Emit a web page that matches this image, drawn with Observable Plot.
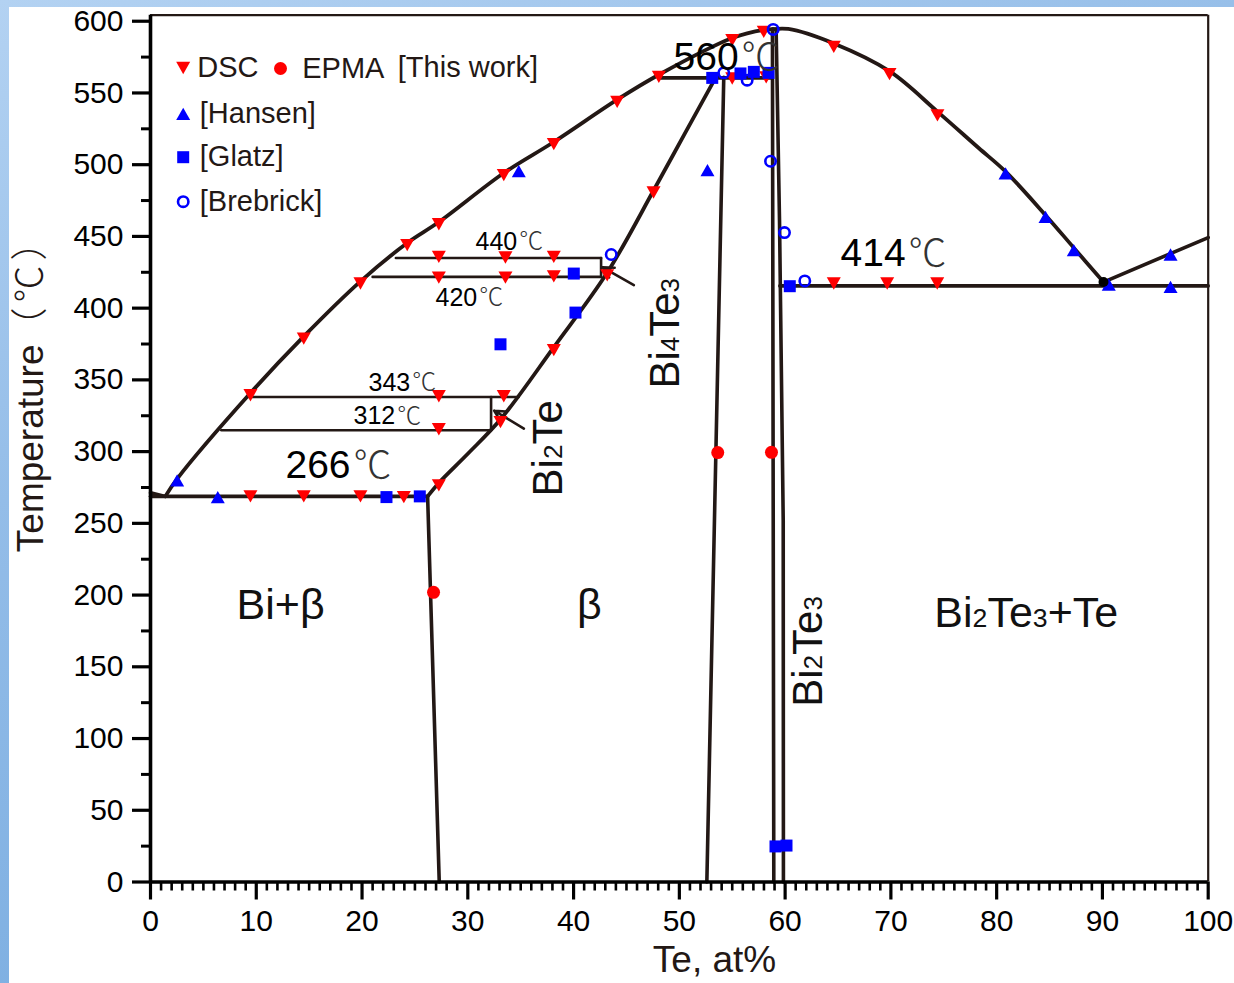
<!DOCTYPE html>
<html><head><meta charset="utf-8">
<script src="https://cdn.jsdelivr.net/npm/d3@7"></script>
<script src="https://cdn.jsdelivr.net/npm/@observablehq/plot@0.6"></script>
<style>
html,body{margin:0;padding:0;}
body{width:1234px;height:983px;overflow:hidden;position:relative;
background:linear-gradient(160deg,#b3d2f2 0%,#94bde8 35%,#7fb0e2 70%,#8ab7e6 100%);}
#chart{position:absolute;left:9px;top:7px;}
</style></head><body><div id="chart"></div>
<script>
// ---------- phase boundaries [Te at%, T °C] ----------
const liquidusBi    = [[0,271.4],[1.4,268.8]];
const liquidusLeft  = [[1.4,268.8],[2.52,281],[9.45,340.8],[14.49,380.3],[19.85,418.7],[24.27,445.4],[27.26,460],[33.4,494.2],[38.13,515.8],[44.12,545.3],[48.06,562.7],[55.0,588.3],[57.98,594],[58.9,594.5]];
const solidusBeta   = [[26.2,268.8],[27.3,278.5],[30,298.5],[33.1,322.5],[38.1,372.5],[43.2,425],[47.6,482.5],[50.5,521.5],[53.6,563]];
const liquidusRight = [[58.9,594.5],[60.3,594.6],[64.6,584.5],[69.9,565],[74.4,537],[78.3,511.6],[80.8,495.5],[84.6,465],[87.3,442],[90.1,418.2]];
const liquidusTe    = [[90.1,418.2],[100,449.2]];
const betaLeft      = [[26.2,268.8],[27.3,0]];
const bi4te3Line    = [[54.2,561],[52.6,0]];
const bi2te3Left    = [[58.8,594.5],[58.93,0]];
const bi2te3Right   = [[59.15,594],[59.47,461],[59.82,252],[59.84,0]];
const iso266        = [[0,268.8],[26.2,268.8]];
const iso414        = [[59.5,415.5],[100,415.5]];
const iso560        = [[48.2,560.5],[58.8,560.5]];
const iso312        = [[6.7,314.9],[32.2,314.9]];
const iso343        = [[9.3,338.1],[34.8,338.1]];
const bi2teBar      = [[32.2,314.9],[32.2,338.1]];
const iso420        = [[21.0,421.8],[42.6,421.8]];
const iso440        = [[23.2,435.0],[42.6,435.0]];
const bi4te3Bar     = [[42.6,421.8],[42.6,435.0]];

// ---------- experimental points [Te at%, T °C] ----------
const dsc = [[9.45,339.3],[14.49,378.8],[19.85,417.2],[24.27,443.9],[27.26,458.5],[33.40,492.7],[38.13,514.3],[44.12,543.8],[48.06,561.2],[55.0,586.8],[57.98,592.6],[64.6,582.1],[69.87,563.1],[74.4,534.4],
  [27.26,435.7],[33.56,435.3],[38.13,435.7],
  [27.26,421.3],[33.56,421.3],[38.13,422.2],[43.18,422.9],
  [38.13,370.7],[47.56,480.6],
  [27.26,338.6],[33.40,338.6],[33.09,320.6],[27.26,315.6],[27.26,276.5],
  [9.45,268.8],[14.49,268.8],[19.85,268.8],[23.95,268.3],
  [55.0,560.1],[58.21,560.8],
  [64.6,417.2],[69.65,417.2],[74.38,417.2]];
const epma = [[26.76,201.9],[53.63,299.3],[58.71,299.5]];
const hansen = [[2.52,280.0],[6.36,268.3],[34.82,495.5],[52.66,496.2],[80.84,493.9],[84.62,463.6],[87.29,440.4],[90.6,416.5],[96.44,437.4],[96.44,414.8]];
const glatz = [[22.31,268.3],[25.46,268.8],[40.02,424.1],[40.18,396.9],[33.09,374.8],[53.11,560.5],[55.78,563.6],[57.04,564.7],[58.43,564.0],[60.44,415.3],[59.09,24.8],[60.13,25.4]];
const brebrick = [[43.56,437.4],[58.87,594.3],[54.2,564.0],[56.41,558.9],[58.62,502.4],[59.94,452.7],[61.86,419.0]];
const eutecticDot = [[90.1,418.2]];

// ---------- labels ----------
const bigTemps   = [{num:"560",x:49.45,T:574.6},{num:"266",x:12.76,T:290.4},{num:"414",x:65.24,T:437.9}];
const smallTemps = [{num:"440",x:30.73,T:446.3},{num:"420",x:26.95,T:407.3},{num:"343",x:20.61,T:348.0},{num:"312",x:19.19,T:324.6}];
const phaseLabels = [{text:"Bi+β",x:12.3,T:192.8},{text:"β",x:41.5,T:192.8},{text:"Bi₂Te₃+Te",x:82.8,T:187.2}];
const compoundLabels = [{text:"Bi₄Te₃",x:48.69,T:382.5},{text:"Bi₂Te",x:37.6,T:302.3},{text:"Bi₂Te₃",x:62.2,T:160.7}];
const arrows = [{x1:45.7,T1:416,x2:42.75,T2:428.5},{x1:35.3,T1:316,x2:32.5,T2:328.5}];
const xTicks = d3.range(0,101,10);
const yTicks = d3.range(0,601,50);
const xLabel = "Te, at%";
const yLabelMain = "Temperature";
const yLabelUnit = "（℃）";
const legendRows = [
  {label:"DSC", sym:"dsc"},{label:"EPMA", sym:"epma"},{label:"[This work]", sym:null},
  {label:"[Hansen]", sym:"hansen"},{label:"[Glatz]", sym:"glatz"},{label:"[Brebrick]", sym:"brebrick"}
];

// ---------- helpers ----------
const toRows = (obj) => Object.entries(obj).flatMap(([id, pts]) => pts.map(([x,T]) => ({id, x, T})));
const pts = (a) => a.map(([x,T]) => ({x, T}));
const triDown = {draw(c, s){const r=Math.sqrt(s/Math.PI), h=r*0.88; c.moveTo(-r,-h); c.lineTo(r,-h); c.lineTo(0,h); c.closePath();}};
const triUp   = {draw(c, s){const r=Math.sqrt(s/Math.PI), h=r*0.88; c.moveTo(-r,h); c.lineTo(r,h); c.lineTo(0,-h); c.closePath();}};
const sq      = {draw(c, s){const r=Math.sqrt(s/Math.PI); c.rect(-r,-r,2*r,2*r);}};
const INK = "#231815", RED = "#ff0000", BLUE = "#0000ff";
const styles = {
  dsc:      {symbol: triDown, r: 7, fill: RED},
  epma:     {symbol: "circle", r: 6.5, fill: RED},
  hansen:   {symbol: triUp, r: 7, fill: BLUE},
  glatz:    {symbol: sq, r: 6, fill: BLUE},
  brebrick: {symbol: "circle", r: 5.2, fill: "none", stroke: BLUE, strokeWidth: 2.6}
};

const smooth = toRows({liquidusLeft, solidusBeta, liquidusRight});
const straight = toRows({liquidusBi, liquidusTe, betaLeft, bi4te3Line, bi2te3Left, bi2te3Right, iso266, iso414, iso560});
const thin = toRows({iso312, iso343, bi2teBar, iso420, iso440, bi4te3Bar});

const F = "'Liberation Sans', Arial, sans-serif";
const CJK = "'Noto Sans CJK SC', 'Liberation Sans', sans-serif";

// legend layout (pixel offsets from frame top-left)
const legendPos = {
  "DSC":[32.7,52.8,46.7], "EPMA":[130,53.3,151.7], "[This work]":[null,52.8,247.3],
  "[Hansen]":[32.7,98.6,49.3], "[Glatz]":[32.7,142,49.3], "[Brebrick]":[32.7,186.5,49.3]
};
const legendMarks = legendRows.flatMap(d => {
  const [sx, sy, tx] = legendPos[d.label];
  const m = [Plot.text([d.label], {frameAnchor:"top-left", dx: tx, dy: sy, textAnchor:"start", lineAnchor:"middle", fontSize:29, fill:INK, fontFamily:F})];
  if (d.sym) m.push(Plot.dot([0], {frameAnchor:"top-left", dx: sx, dy: sy, ...styles[d.sym]}));
  return m;
});

const chart = Plot.plot({
  width: 1225, height: 976,
  marginLeft: 141, marginRight: 26.3, marginTop: 7.7, marginBottom: 101.5,
  x: {domain: [0, 100]},
  y: {domain: [0, 604.2]},
  style: {fontFamily: F, fontSize: "30px", background: "#fff", color: "#000", overflow: "visible"},
  marks: [
    Plot.line(smooth, {x:"x", y:"T", z:"id", curve:"catmull-rom", stroke:INK, strokeWidth:3.8}),
    Plot.line(straight, {x:"x", y:"T", z:"id", stroke:INK, strokeWidth:3.6}),
    Plot.line(thin, {x:"x", y:"T", z:"id", stroke:INK, strokeWidth:2.6}),
    Plot.arrow(arrows, {x1:"x1", y1:"T1", x2:"x2", y2:"T2", stroke:INK, strokeWidth:2.6, headLength:14, headAngle:55}),
    // frame
    Plot.ruleX([100], {stroke:INK, strokeWidth:2.2}),
    Plot.ruleY([604.2], {stroke:INK, strokeWidth:2.2}),
    Plot.ruleX([0], {stroke:"#000", strokeWidth:3.6}),
    Plot.ruleY([0], {stroke:"#000", strokeWidth:3.6}),
    // axes
    Plot.axisY({ticks: yTicks, tickSize:18, tickPadding:9, fontSize:30, strokeWidth:3.2, color:"#000", label:null}),
    Plot.axisY({ticks: d3.range(25,601,50), tickSize:9, tickFormat:()=>"", strokeWidth:3, color:"#000", label:null}),
    Plot.axisX({ticks: xTicks, tickSize:18, tickPadding:10, fontSize:30, strokeWidth:3.2, color:"#000", label:null}),
    Plot.axisX({ticks: d3.range(0,101,1).filter(d => d % 10), tickSize:9, tickFormat:()=>"", strokeWidth:2.6, color:"#000", label:null}),
    // points
    Plot.dot(pts(dsc), {x:"x", y:"T", ...styles.dsc}),
    Plot.dot(pts(epma), {x:"x", y:"T", ...styles.epma}),
    Plot.dot(pts(hansen), {x:"x", y:"T", ...styles.hansen}),
    Plot.dot(pts(glatz), {x:"x", y:"T", ...styles.glatz}),
    Plot.dot(pts(brebrick), {x:"x", y:"T", ...styles.brebrick}),
    Plot.dot(pts(eutecticDot), {x:"x", y:"T", r:5, fill:"#000"}),
    // temperature annotations
    Plot.text(bigTemps, {x:"x", y:"T", text:"num", textAnchor:"start", fontSize:39, fill:"#000"}),
    Plot.text(bigTemps, {x:"x", y:"T", text:()=>"℃", textAnchor:"start", dx: 3*0.556*39 + 3, fontSize:38, fontFamily:CJK, fontWeight:300, fill:"#333"}),
    Plot.text(smallTemps, {x:"x", y:"T", text:"num", textAnchor:"start", fontSize:25, fill:"#000"}),
    Plot.text(smallTemps, {x:"x", y:"T", text:()=>"℃", textAnchor:"start", dx: 3*0.556*25 + 2, fontSize:24, fontFamily:CJK, fontWeight:300, fill:"#333"}),
    // phase labels
    Plot.text(phaseLabels, {x:"x", y:"T", text:"text", fontSize:43, fill:"#111"}),
    Plot.text(compoundLabels, {x:"x", y:"T", text:"text", rotate:-90, fontSize:42, fill:"#111"}),
    // axis titles
    Plot.text([xLabel], {x:()=>53.33, y:()=>0, dy:78.5, fontSize:37, fill:INK}),
    Plot.text([yLabelMain + yLabelUnit], {x:()=>0, y:()=>346.2, dx:-119, rotate:-90, fontSize:37, fill:INK}),
    ...legendMarks
  ]
});

const NS = "http://www.w3.org/2000/svg";
chart.querySelectorAll("text").forEach(t => {
  const s = t.textContent;
  if (t.children.length) return;
  // y-axis title: Latin part + full-width CJK unit
  if (s === yLabelMain + yLabelUnit) {
    t.textContent = "";
    const a = document.createElementNS(NS, "tspan"); a.textContent = yLabelMain;
    const b = document.createElementNS(NS, "tspan"); b.textContent = yLabelUnit;
    b.setAttribute("font-family", "'Noto Sans CJK SC', sans-serif");
    b.setAttribute("font-weight", "300");
    b.setAttribute("letter-spacing", "5");
    t.appendChild(a); t.appendChild(b);
    return;
  }
  // subscript digits -> smaller baseline digits
  if (!/[\u2080-\u2089]/.test(s)) return;
  t.textContent = "";
  for (const r of s.match(/[\u2080-\u2089]+|[^\u2080-\u2089]+/g)) {
    const ts = document.createElementNS(NS, "tspan");
    if (/[\u2080-\u2089]/.test(r)) {
      ts.textContent = [...r].map(ch => String.fromCharCode(ch.charCodeAt(0) - 0x2080 + 48)).join("");
      ts.setAttribute("font-size", "0.62em");
    } else ts.textContent = r;
    t.appendChild(ts);
  }
});
document.getElementById("chart").appendChild(chart);
</script></body></html>
